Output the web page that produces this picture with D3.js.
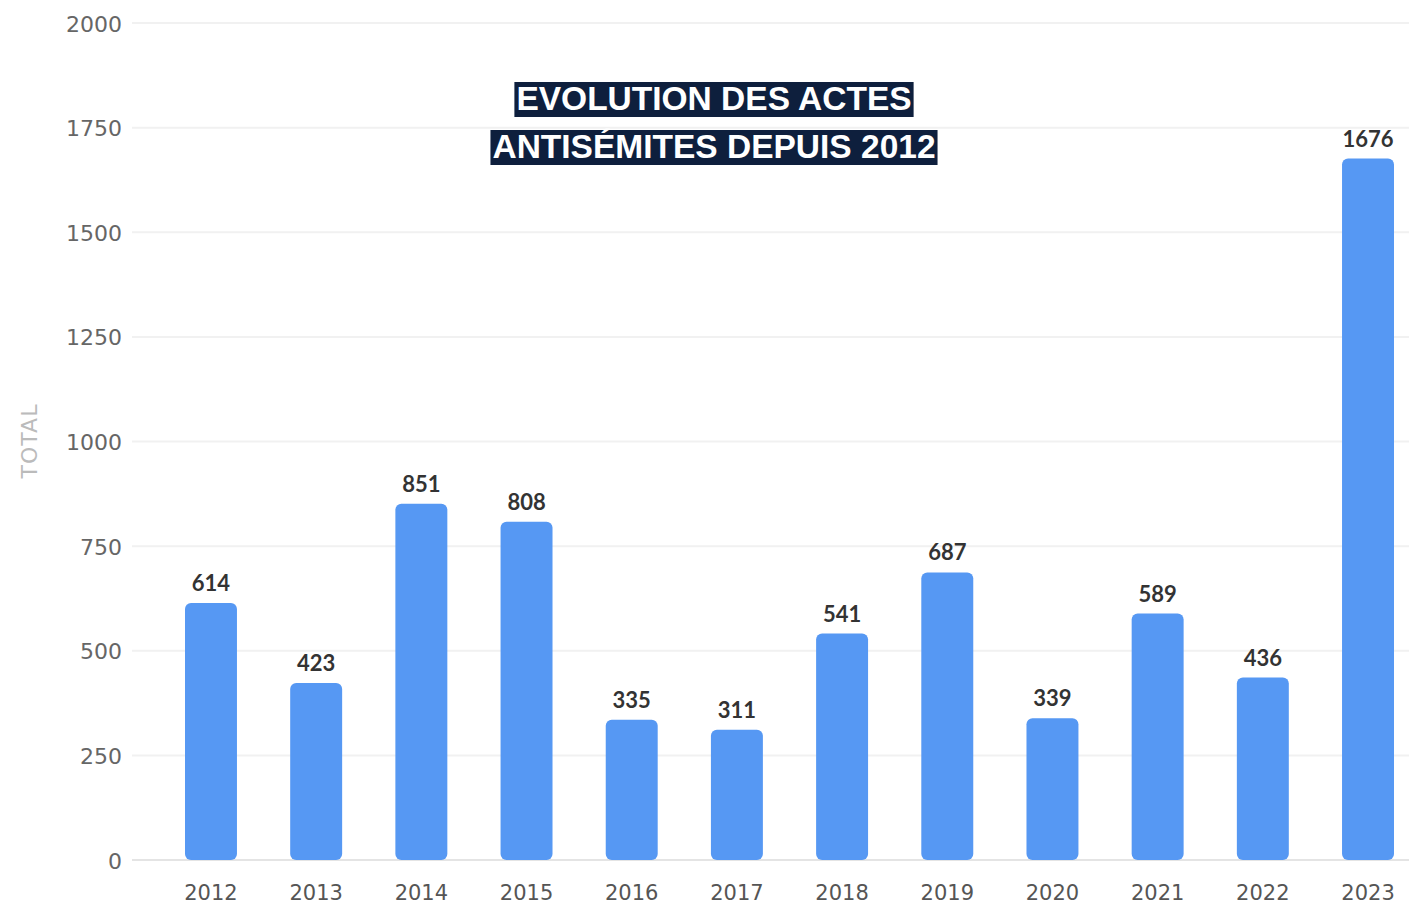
<!DOCTYPE html>
<html>
<head>
<meta charset="utf-8">
<script src="https://cdn.jsdelivr.net/npm/d3@7"></script>
<style>
    body { margin: 0; background: #fff; }
    svg { display: block; }
</style>
</head>
<body>
<div id="chart"></div>
<script>
// data
const years = ["2012", "2013", "2014", "2015", "2016", "2017", "2018", "2019", "2020", "2021", "2022", "2023"];
const totals = [614, 423, 851, 808, 335, 311, 541, 687, 339, 589, 436, 1676];
const yTicks = [0, 250, 500, 750, 1000, 1250, 1500, 1750, 2000];
const titleLines = ["EVOLUTION DES ACTES", "ANTISÉMITES DEPUIS 2012"];
const yLabel = "TOTAL";

const width = 1409;
const height = 906;

let svg = d3.select("#chart")
    .append("svg")
    .attr("width", width)
    .attr("height", height);

let x = d3.scaleBand()
    .domain(years)
    .range([185, 1394])
    .paddingInner(0.506)
    .paddingOuter(0);

let y = d3.scaleLinear()
    .domain([0, 2000])
    .range([860, 23]);

// gridlines
svg.append("g")
    .selectAll("line")
    .data(yTicks)
    .enter()
    .append("line")
    .attr("x1", 132)
    .attr("x2", width)
    .attr("y1", d => y(d))
    .attr("y2", d => y(d))
    .attr("stroke", d => d === 0 ? "#e4e4e4" : "#f1f1f1")
    .attr("stroke-width", 2);

// y axis labels
const yAxis = svg.append("g")
    .attr("transform", "translate(122,1)")
    .call(d3.axisLeft(y).tickValues(yTicks).tickSize(0).tickPadding(0).tickFormat(d => d));
yAxis.select(".domain").remove();
yAxis.selectAll("text")
    .attr("fill", "#666")
    .style("font-family", "'DejaVu Sans', sans-serif")
    .style("font-size", "22px");

svg.append("text")
    .text(yLabel)
    .attr("transform", "translate(37,441) rotate(-90)")
    .attr("text-anchor", "middle")
    .attr("fill", "#bbb")
    .style("font-family", "'DejaVu Sans', sans-serif")
    .style("letter-spacing", "1px")
    .style("font-size", "22px");

// x axis labels
const xAxis = svg.append("g")
    .attr("transform", "translate(0,885)")
    .call(d3.axisBottom(x).tickSize(0).tickPadding(0));
xAxis.select(".domain").remove();
xAxis.selectAll("text")
    .attr("fill", "#555")
    .attr("dy", "0.71em")
    .style("font-family", "'DejaVu Sans', sans-serif")
    .style("font-size", "21px");

// bars
svg.append("g")
    .selectAll("rect")
    .data(totals)
    .enter()
    .append("rect")
    .attr("x", (d, i) => x(years[i]))
    .attr("y", d => y(d))
    .attr("width", x.bandwidth())
    .attr("height", d => y(0) - y(d))
    .attr("rx", 6)
    .attr("fill", "#5698f3");

// value labels
svg.append("g")
    .selectAll("text")
    .data(totals)
    .enter()
    .append("text")
    .text(d => d)
    .attr("x", (d, i) => x(years[i]) + x.bandwidth() / 2)
    .attr("y", d => y(d) - 12)
    .attr("text-anchor", "middle")
    .attr("fill", "#333")
    .style("font-family", "Lato, 'Open Sans', sans-serif")
    .style("font-weight", "bold")
    .style("font-size", "22px");

// title with dark highlight boxes
const title = svg.append("g");
titleLines.forEach(function (line, i) {
    const t = title.append("text")
        .text(line)
        .attr("x", 714)
        .attr("y", 110 + i * 48)
        .attr("text-anchor", "middle")
        .attr("fill", "#fff")
        .style("font-family", "'Liberation Sans', Arial, sans-serif")
        .style("font-weight", "bold")
        .style("font-size", "33.5px");
    const bb = t.node().getBBox();
    title.insert("rect", "text")
        .attr("x", bb.x - 2)
        .attr("y", bb.y + 2)
        .attr("width", bb.width + 4)
        .attr("height", bb.height - 2)
        .attr("fill", "#0e1f3d");
});
</script>
</body>
</html>
